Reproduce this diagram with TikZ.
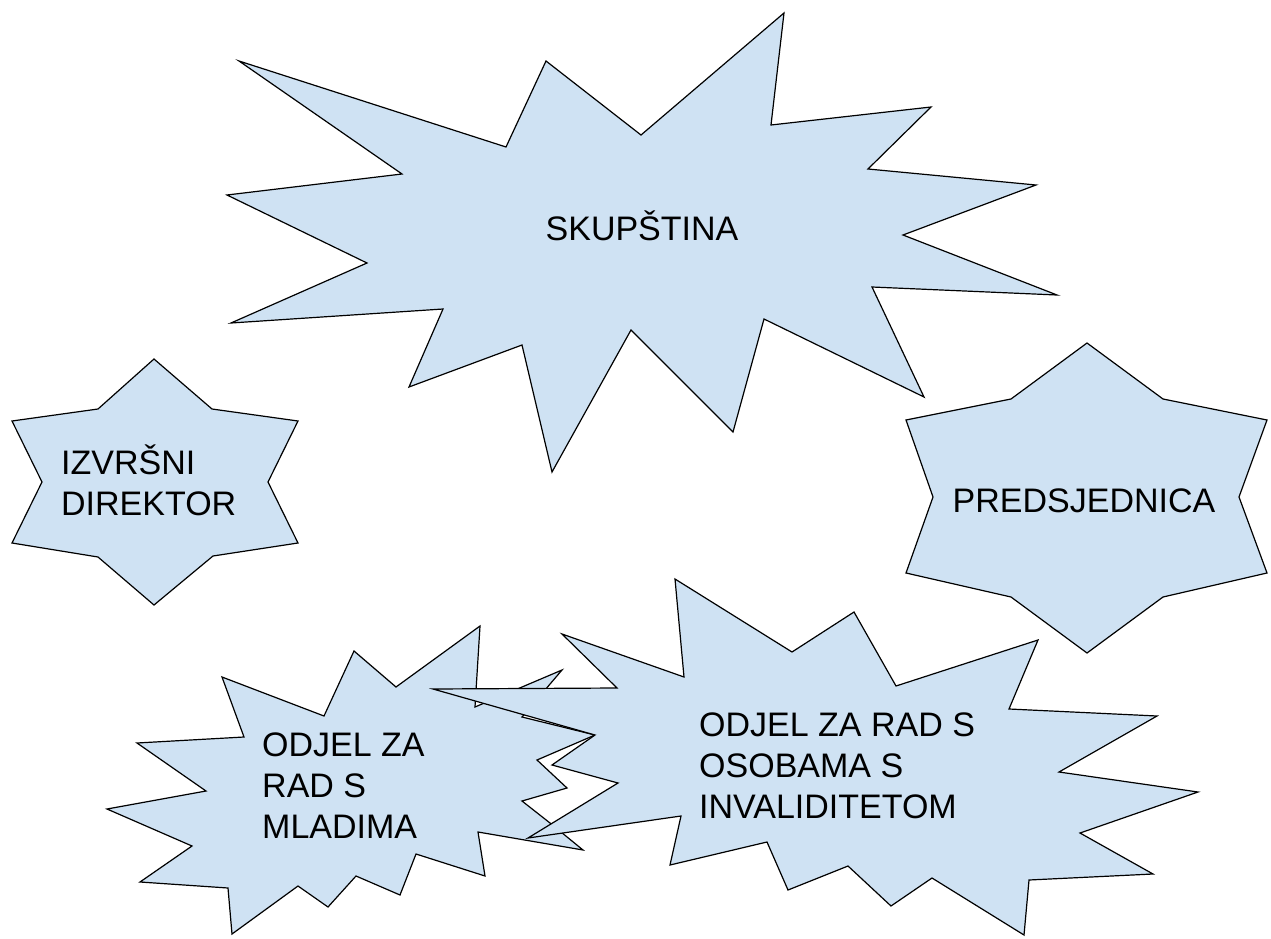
\documentclass[tikz,border=0pt]{standalone}
\usepackage{fontspec}
\setmainfont{Liberation Sans}
\definecolor{burstblue}{HTML}{CFE2F3}

\begin{document}
\begin{tikzpicture}[x=1pt,y=-1pt,
  burst/.style={draw=black,line width=1.2pt,fill=burstblue},
  txt/.style={font=\fontsize{34}{40.6}\selectfont,inner sep=0pt,align=left}]
%\draw[help lines,step=100] (0,0) grid (1271,939);
\useasboundingbox (0,0) rectangle (1271,939);

% skupstina
\draw[burst] (239,61) -- (506,147) -- (546,61) -- (641,135) -- (784,13) -- (771,125)
  -- (931,107) -- (868,169) -- (1036,185) -- (903,235) -- (1057,295) -- (872,287)
  -- (924,397) -- (764,319) -- (733,432) -- (631,330) -- (552,472) -- (522,345)
  -- (409,387) -- (443,309) -- (231,323) -- (367,263) -- (227,195) -- (402,174) -- cycle;
\node[txt,anchor=base] (skupstina) at (642,240) {SKUPŠTINA};

% izvrsni direktor
\draw[burst] (154,359) -- (212,409) -- (298,421) -- (268,482) -- (298,543) -- (213,556)
  -- (154,605) -- (98,557) -- (12,543) -- (42,482) -- (12,421) -- (98,409) -- cycle;
\node[txt,anchor=base west] (direktor) at (61,515) {IZVRŠNI\\DIREKTOR};

% predsjednica
\draw[burst] (1087,343) -- (1163,399) -- (1267,420) -- (1239,497) -- (1267,573) -- (1163,597)
  -- (1087,653) -- (1011,597) -- (906,573) -- (933,497) -- (906,420) -- (1011,399) -- cycle;
\node[txt,anchor=base] (predsjednica) at (1084,512) {PREDSJEDNICA};

% odjel za mlade
\draw[burst] (222,677) -- (324,716) -- (354,651) -- (396,687) -- (480,626) -- (475,707)
  -- (562,670) -- (522,717) -- (595,735) -- (537,760) -- (567,788) -- (522,801)
  -- (550,823) -- (583,850) -- (478,832) -- (485,876) -- (416,854) -- (400,895)
  -- (356,876) -- (328,907) -- (298,886) -- (232,934) -- (228,888) -- (140,882)
  -- (192,846) -- (107,809) -- (206,791) -- (137,743) -- (244,737) -- cycle;
\node[txt,anchor=base west] (mladi) at (262,838) {ODJEL ZA\\RAD S\\MLADIMA};

% odjel za osobe s invaliditetom
\draw[burst] (433,689) -- (617,688) -- (562,634) -- (684,677) -- (675,579) -- (792,652)
  -- (854,612) -- (896,686) -- (1038,640) -- (1009,709) -- (1157,716) -- (1059,772)
  -- (1198,792) -- (1080,833) -- (1153,874) -- (1029,880) -- (1024,935) -- (932,878)
  -- (891,906) -- (848,866) -- (788,890) -- (767,842) -- (670,865) -- (681,816)
  -- (528,838) -- (618,783) -- (552,765) -- (595,735) -- cycle;
\node[txt,anchor=base west] (invalidi) at (699,818) {ODJEL ZA RAD S\\OSOBAMA S\\INVALIDITETOM};
\end{tikzpicture}
\end{document}
